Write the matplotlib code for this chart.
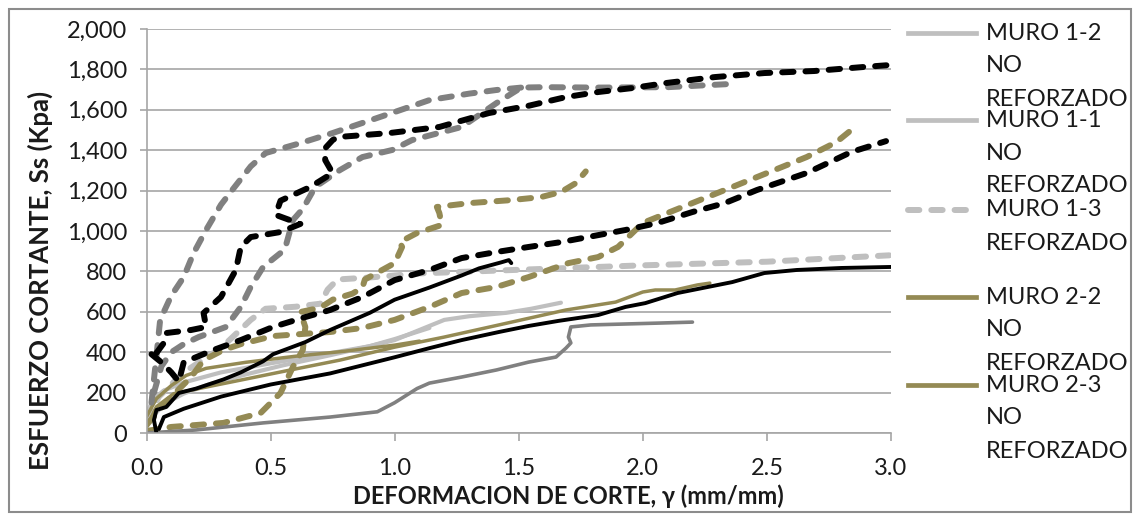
import matplotlib
matplotlib.use("Agg")
import matplotlib.pyplot as plt
from matplotlib.lines import Line2D
from matplotlib.patches import Rectangle

# ---- data: shear strain (mm/mm) vs shear stress Ss (kPa) ----
m12_x = [0.0, 0.03, 0.07, 0.15, 0.3, 0.5, 0.74, 0.9, 1.0, 1.1, 1.2, 1.3, 1.45, 1.55, 1.67]
m12_y = [100, 170, 210, 250, 300, 345, 395, 430, 460, 510, 560, 578, 595, 615, 645]

m11_x = [0.0, 0.03, 0.08, 0.15, 0.25, 0.4, 0.55, 0.74, 0.9, 1.0, 1.14]
m11_y = [30, 90, 150, 195, 240, 290, 335, 385, 430, 465, 520]

m13_x = [0.0, 0.05, 0.15, 0.3, 0.42, 0.48, 0.6, 0.7, 0.73, 0.77, 0.9, 1.1, 1.5, 2.0, 2.5, 3.0]
m13_y = [60, 180, 300, 420, 560, 615, 625, 640, 710, 760, 770, 790, 808, 830, 848, 880]

m22_x = [0.0, 0.04, 0.11, 0.38, 0.58, 0.78, 1.0, 1.2, 1.42, 1.69, 1.89, 2.0, 2.05, 2.13, 2.22, 2.27]
m22_y = [30, 130, 195, 262, 312, 361, 425, 475, 535, 609, 648, 698, 708, 708, 733, 742]

m23_x = [0.0, 0.04, 0.1, 0.16, 0.24, 0.4, 0.6, 0.8, 1.0, 1.1]
m23_y = [80, 170, 235, 285, 320, 350, 380, 405, 435, 455]

olive_dash_a_x = [0.0, 0.1, 0.31, 0.46, 0.54, 0.59, 0.63, 0.64, 0.62, 0.7, 0.75, 0.83, 0.87, 0.88,
                  1.0, 1.03, 1.02, 1.09, 1.19, 1.18, 1.17, 1.3, 1.47, 1.59, 1.67, 1.73, 1.77]
olive_dash_a_y = [10, 30, 50, 99, 198, 327, 411, 525, 599, 620, 660, 690, 720, 760,
                  841, 921, 945, 990, 1030, 1089, 1119, 1138, 1153, 1168, 1193, 1237, 1295]

olive_dash_b_x = [0.0, 0.1, 0.18, 0.23, 0.31, 0.38, 0.51, 0.74, 0.87, 1.0, 1.14, 1.27, 1.41, 1.54,
                  1.7, 1.82, 1.9, 2.0, 2.13, 2.26, 2.46, 2.66, 2.78, 2.86]
olive_dash_b_y = [40, 180, 277, 361, 411, 440, 480, 500, 520, 560, 624, 693, 723, 772,
                  841, 871, 921, 1040, 1104, 1168, 1267, 1366, 1440, 1520]

black_a_x = [0.04, 0.03, 0.04, 0.08, 0.13, 0.2, 0.31, 0.38, 0.47, 0.51, 0.64, 0.74, 0.9, 1.0,
             1.14, 1.27, 1.34, 1.43, 1.46, 1.47]
black_a_y = [0, 64, 114, 129, 198, 220, 265, 300, 355, 390, 450, 510, 595, 660,
             720, 780, 815, 845, 856, 841]

black_b_x = [0.05, 0.07, 0.15, 0.3, 0.5, 0.74, 1.0, 1.14, 1.27, 1.42, 1.54, 1.66, 1.82, 1.93,
             2.01, 2.14, 2.36, 2.49, 2.62, 2.8, 3.0]
black_b_y = [20, 79, 120, 180, 240, 295, 375, 420, 460, 500, 530, 555, 584, 624,
             643, 693, 747, 792, 807, 817, 822]

black_dash_a_x = [0.04, 0.07, 0.08, 0.18, 0.24, 0.23, 0.3, 0.36, 0.38, 0.42, 0.54, 0.62, 0.52,
                  0.54, 0.66, 0.75, 0.72, 0.72, 0.75, 0.77, 0.98, 1.18, 1.38, 1.54, 1.69, 1.82,
                  1.96, 2.09, 2.29, 2.49, 2.69, 2.89, 3.0]
black_dash_a_y = [396, 446, 495, 510, 525, 594, 673, 807, 921, 970, 995, 1035, 1080,
                  1150, 1218, 1287, 1351, 1410, 1450, 1465, 1485, 1515, 1584, 1620, 1663, 1688,
                  1708, 1732, 1762, 1782, 1792, 1812, 1822]

black_dash_b_x = [0.02, 0.06, 0.1, 0.13, 0.15, 0.27, 0.38, 0.51, 0.64, 0.74, 0.87, 1.0, 1.14,
                  1.27, 1.41, 1.54, 1.67, 1.93, 2.06, 2.2, 2.33, 2.46, 2.66, 2.84, 2.98]
black_dash_b_y = [390, 350, 300, 255, 350, 411, 460, 525, 574, 609, 673, 757, 807,
                  866, 896, 921, 945, 1005, 1040, 1094, 1138, 1203, 1287, 1391, 1445]

gray_dash_a_x = [0.02, 0.04, 0.055, 0.1, 0.15, 0.19, 0.24, 0.3, 0.35, 0.42, 0.48, 0.62, 0.75,
                 0.88, 1.0, 1.14, 1.3, 1.41, 1.51]
gray_dash_a_y = [150, 380, 560, 680, 772, 891, 1005, 1130, 1210, 1320, 1386, 1435, 1485,
                 1539, 1589, 1648, 1680, 1698, 1710]

gray_dash_b_x = [0.03, 0.06, 0.1, 0.15, 0.21, 0.32, 0.38, 0.42, 0.47, 0.54, 0.56, 0.59, 0.63,
                 0.68, 0.78, 0.87, 0.99, 1.07, 1.27, 1.41, 1.51, 1.6, 1.82, 2.1, 2.34]
gray_dash_b_y = [200, 330, 400, 440, 475, 525, 624, 723, 822, 891, 921, 1054, 1110,
                 1218, 1302, 1366, 1401, 1450, 1515, 1633, 1710, 1712, 1710, 1712, 1727]

gray_x = [0.0, 0.2, 0.47, 0.74, 0.93, 1.0, 1.09, 1.14, 1.27, 1.41, 1.54, 1.65, 1.69, 1.71,
          1.70, 1.71, 1.79, 2.06, 2.2]
gray_y = [0, 15, 50, 79, 105, 150, 220, 247, 277, 312, 351, 376, 420, 446,
          475, 525, 535, 544, 549]

legend_lines = [
    ["MURO 1-2", "NO", "REFORZADO"],
    ["MURO 1-1", "NO", "REFORZADO"],
    ["MURO 1-3", "REFORZADO"],
    ["MURO 2-2", "NO", "REFORZADO"],
    ["MURO 2-3", "NO", "REFORZADO"],
]

x_ticks = [0.0, 0.5, 1.0, 1.5, 2.0, 2.5, 3.0]
y_ticks = [0, 200, 400, 600, 800, 1000, 1200, 1400, 1600, 1800, 2000]
x_title = "DEFORMACION DE CORTE, γ (mm/mm)"
y_title = "ESFUERZO CORTANTE, Ss (Kpa)"

# ---- styling ----
LGRAY = "#BFBFBF"
OLIVE = "#948A54"
GRAY = "#808080"
BLACK = "#000000"
GRID = "#A6A6A6"
TXT = "#1A1A1A"
FONT = "Lato"
FS = 17

plt.rcParams["font.family"] = [FONT, "DejaVu Sans"]

W, H = 1133, 514
fig = plt.figure(figsize=(W / 100, H / 100), dpi=100)

def fx(px):
    return px / W

def fy(py):
    return 1 - py / H

ax = fig.add_axes([fx(146.5), fy(433), fx(891) - fx(146.5), fy(29) - fy(433)])

DASH = (1.9, 2.0)

def solid(x, y, color, lw=2.9):
    return ax.plot(x, y, color=color, lw=lw, solid_capstyle="round",
                   solid_joinstyle="round")[0]

def dashed(x, y, color):
    ln, = ax.plot(x, y, color=color, lw=4.3, dash_capstyle="round",
                  dash_joinstyle="round")
    ln.set_dashes(DASH)
    return ln

solid(m12_x, m12_y, LGRAY, 3.0)
solid(m11_x, m11_y, LGRAY, 3.0)
dashed(m13_x, m13_y, LGRAY)
solid(m22_x, m22_y, OLIVE, 2.5)
solid(m23_x, m23_y, OLIVE, 2.5)
dashed(olive_dash_a_x, olive_dash_a_y, OLIVE)
dashed(olive_dash_b_x, olive_dash_b_y, OLIVE)
solid(gray_x, gray_y, GRAY, 2.6)
dashed(gray_dash_a_x, gray_dash_a_y, GRAY)
dashed(gray_dash_b_x, gray_dash_b_y, GRAY)
solid(black_a_x, black_a_y, BLACK, 2.8)
solid(black_b_x, black_b_y, BLACK, 2.8)
dashed(black_dash_a_x, black_dash_a_y, BLACK)
dashed(black_dash_b_x, black_dash_b_y, BLACK)

ax.set_xlim(0, 3.0)
ax.set_ylim(0, 2000)
ax.set_xticks(x_ticks)
ax.set_yticks(y_ticks)
ax.set_xticklabels([f"{v:.1f}" for v in x_ticks])
ax.set_yticklabels([f"{v:,}" for v in y_ticks])
ax.yaxis.grid(True, color=GRID, lw=1.2)
ax.set_axisbelow(True)
for s in ("top", "right"):
    ax.spines[s].set_visible(False)
for s in ("left", "bottom"):
    ax.spines[s].set_color(GRID)
    ax.spines[s].set_linewidth(1.2)
ax.tick_params(axis="both", direction="out", color=GRID, width=1.2, labelsize=FS,
               labelcolor=TXT)
ax.tick_params(axis="x", length=6, pad=12)
ax.tick_params(axis="y", length=5, pad=9)

fig.text(fx(568), fy(496), x_title, ha="center", va="center", fontsize=FS,
         fontweight="bold", color=TXT)
fig.text(fx(40), fy(280), y_title, ha="center", va="center", rotation=90,
         fontsize=18.5, fontweight="bold", color=TXT)

# legend drawn as line samples with wrapped labels
leg_styles = [
    dict(color=LGRAY, lw=3.4),
    dict(color=LGRAY, lw=3.4),
    dict(color=LGRAY, lw=4.3, dashes=(1.9, 2.0), dash_capstyle="round"),
    dict(color=OLIVE, lw=3.4),
    dict(color=OLIVE, lw=3.4),
]
entry_y = [33, 120, 210, 297, 385]
for lines, style, y0 in zip(legend_lines, leg_styles, entry_y):
    fig.add_artist(Line2D([fx(908), fx(976)], [fy(y0), fy(y0)], transform=fig.transFigure,
                          **style))
    for i, t in enumerate(lines):
        fig.text(fx(986), fy(y0 + 33 * i), t, ha="left", va="center", fontsize=FS,
                 color=TXT)

# chart frame
fig.add_artist(Rectangle((fx(9), fy(512)), fx(1131) - fx(9), fy(9) - fy(512),
                         transform=fig.transFigure, fill=False, edgecolor="#8C8C8C", lw=1.5))

fig.savefig("out.png", dpi=100)
